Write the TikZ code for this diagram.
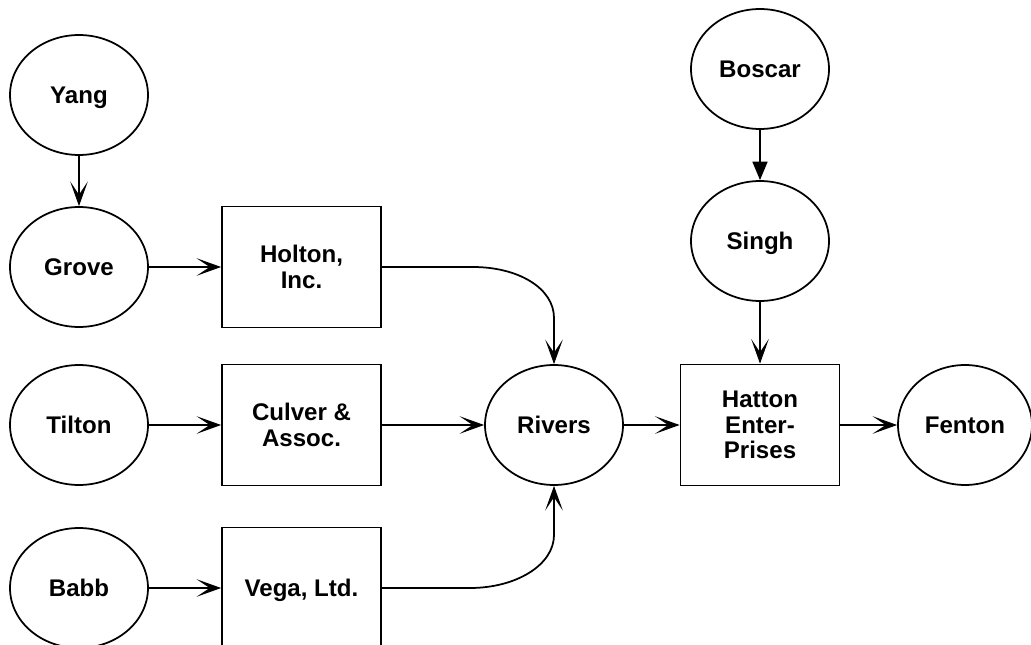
\documentclass[tikz,border=0pt]{standalone}
\usepackage{fontspec}
\setmainfont{Liberation Sans}
\usetikzlibrary{shapes.geometric,arrows.meta}

\begin{document}
\begin{tikzpicture}[x=0.02cm, y=-0.02cm, line width=1pt,
  every node/.style={font=\fontsize{13.7}{14.6}\selectfont\bfseries, align=center,
                     text depth=0pt},
  persona/.style={draw, ellipse, minimum width=2.76cm, minimum height=2.4cm, inner sep=0pt},
  firma/.style={draw, rectangle, minimum width=3.18cm, minimum height=2.42cm, inner sep=0pt},
  flecha/.style={-{Stealth[length=14pt,width=10pt,inset=7.5pt,line width=0.6pt]}}]

% --- Marco de la figura ---
\useasboundingbox (0,0) rectangle (1031,645);
\clip (0,0) rectangle (1031,645);

% --- Personas (elipses) ---
\node[persona] (yang)   at (79,95)   {Yang};
\node[persona] (grove)  at (79,267)  {Grove};
\node[persona] (tilton) at (79,425)  {Tilton};
\node[persona] (babb)   at (79,588)  {Babb};
\node[persona] (rivers) at (554,425) {Rivers};
\node[persona] (boscar) at (760,69)  {Boscar};
\node[persona] (singh)  at (760,241) {Singh};
\node[persona, minimum width=2.68cm] (fenton) at (965,425) {Fenton};

% --- Empresas (cajas) ---
\node[firma] (holton) at (301.5,267) {Holton,\\Inc.};
\node[firma] (culver) at (301.5,425) {Culver \&\\Assoc.};
\node[firma] (vega)   at (301.5,588) {Vega, Ltd.};
\node[firma] (hatton) at (760,425)   {Hatton\\Enter-\\Prises};

% --- Codos de las curvas ---
\coordinate (codoA) at (473,267); % fin del tramo recto de Holton
\coordinate (codoB) at (554,318);
\coordinate (codoC) at (470,588); % fin del tramo recto de Vega
\coordinate (codoD) at (554,535);

% --- Flechas rectas ---
\foreach \a/\b in {yang/grove, grove/holton, tilton/culver, babb/vega,
                   culver/rivers, rivers/hatton, hatton/fenton, singh/hatton} {
  \draw[flecha] (\a) -- (\b);
}
\draw[-{Triangle[length=10.5pt,width=8.5pt]}] (boscar) -- (singh);

% --- Flechas curvas hacia Rivers ---
\draw[flecha] (holton) -- (codoA) .. controls +(45,0) and +(0,-30) .. (codoB) -- (rivers);
\draw[flecha] (vega) -- (codoC) .. controls +(46,0) and +(0,30) .. (codoD) -- (rivers);

\end{tikzpicture}
\end{document}
